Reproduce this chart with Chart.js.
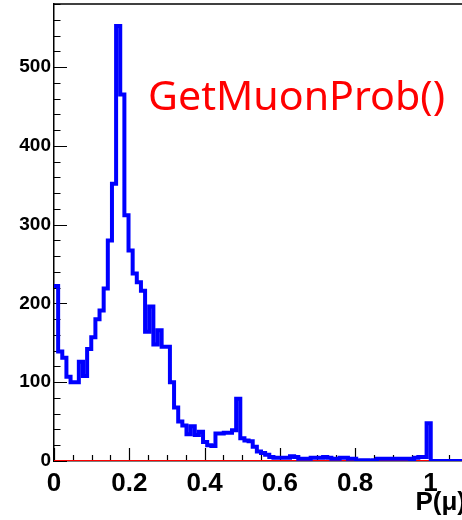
<!DOCTYPE html>
<html>
<head>
<meta charset="utf-8">
<script src="https://cdn.jsdelivr.net/npm/chart.js@4.4.1/dist/chart.umd.min.js"></script>
<style>
html,body{margin:0;padding:0;overflow:hidden;background:#fff;}
canvas{display:block;}
</style>
</head>
<body>
<canvas id="c" width="468" height="520"></canvas>
<script>
// Histogram definition: 100 bins on [0, 1.1]
const histMin = 0;
const histMax = 1.1;
const binWidth = 0.011;

// Blue histogram counts (GetMuonProb), one per bin
const blueCounts = [
  222, 139, 131, 107, 100, 100, 126, 108, 142, 157,
  180, 191, 219, 280, 352, 552, 465, 312, 267, 238,
  227, 216, 164, 196, 148, 166, 145, 145, 100, 68,
  50, 45, 34, 44, 33, 37, 24, 20, 19, 35,
  35, 36, 36, 39, 79, 29, 26, 25, 18, 12,
  10, 8, 5, 4, 4, 4, 4, 6, 5, 3,
  3, 3, 4, 4, 4, 5, 4, 3, 3, 4,
  4, 3, 3, 0, 1, 1, 0, 1, 3, 3,
  3, 3, 3, 3, 3, 3, 2, 4, 5, 5,
  48, 0, 0, 0, 0, 0, 0, 0, 0, 0
];

// Red histogram counts (all empty)
const redCounts = [
  0,0,0,0,0,0,0,0,0,0, 0,0,0,0,0,0,0,0,0,0,
  0,0,0,0,0,0,0,0,0,0, 0,0,0,0,0,0,0,0,0,0,
  0,0,0,0,0,0,0,0,0,0, 0,0,0,0,0,0,0,0,0,0,
  0,0,0,0,0,0,0,0,0,0, 0,0,0,0,0,0,0,0,0,0,
  0,0,0,0,0,0,0,0,0,0, 0,0,0,0,0,0,0,0,0,0
];

// Tick labels
const xTickValues = [0, 0.2, 0.4, 0.6, 0.8, 1];
const xTickLabels = ["0", "0.2", "0.4", "0.6", "0.8", "1"];
const yTickValues = [0, 100, 200, 300, 400, 500];
const yTickLabels = ["0", "100", "200", "300", "400", "500"];

const titleText = "GetMuonProb()";
const xAxisTitle = "P(\u03BC)";

function histPoints(counts) {
  const pts = counts.map((c, i) => ({ x: histMin + i * binWidth, y: c }));
  pts.push({ x: histMax, y: counts[counts.length - 1] });
  return pts;
}

const tickPlugin = {
  id: 'rootTicks',
  beforeDatasetsDraw(chart) {
    const { ctx, chartArea: a, scales: { x, y } } = chart;
    ctx.save();
    ctx.strokeStyle = '#000';
    ctx.lineWidth = 1.2;
    ctx.beginPath();
    for (let v = 0; v <= 580; v += 20) {
      const py = Math.round(y.getPixelForValue(v)) + 0.5;
      const len = (v % 100 === 0) ? 13 : 6.5;
      ctx.moveTo(a.left, py);
      ctx.lineTo(a.left + len, py);
    }
    for (let k = 0; k <= 22; k++) {
      const v = k * 0.05;
      const px = Math.round(x.getPixelForValue(v)) + 0.5;
      const len = (k % 4 === 0) ? 13 : 6;
      ctx.moveTo(px, a.bottom);
      ctx.lineTo(px, a.bottom - len);
    }
    ctx.stroke();
    ctx.lineWidth = 1.5;
    ctx.beginPath();
    ctx.moveTo(a.left - 1, a.top);
    ctx.lineTo(a.right, a.top);
    ctx.stroke();
    ctx.restore();
  },
  afterDraw(chart) {
    const { ctx } = chart;
    ctx.save();
    ctx.font = '40px "Noto Sans"';
    const w = ctx.measureText(titleText).width;
    ctx.translate(148, 110);
    ctx.scale(297 / w, 1);
    ctx.fillStyle = '#ff0000';
    ctx.textBaseline = 'alphabetic';
    ctx.textAlign = 'left';
    ctx.fillText(titleText, 0, 0);
    ctx.restore();
    ctx.save();
    ctx.font = 'bold 26px "Liberation Sans"';
    ctx.fillStyle = '#000';
    ctx.textAlign = 'right';
    ctx.textBaseline = 'alphabetic';
    ctx.fillText(xAxisTitle, 466, 510);
    ctx.restore();
  }
};

function noPad(s) {
  s.paddingTop = 0; s.paddingBottom = 0; s.paddingLeft = 0; s.paddingRight = 0;
}

new Chart(document.getElementById('c'), {
  type: 'line',
  data: {
    datasets: [
      {
        data: histPoints(blueCounts),
        borderColor: '#0000ff',
        borderWidth: 4,
        stepped: true,
        pointRadius: 0,
        fill: false,
        tension: 0
      },
      {
        data: histPoints(redCounts),
        borderColor: '#ff0000',
        borderWidth: 2,
        stepped: true,
        pointRadius: 0,
        fill: false,
        tension: 0
      }
    ]
  },
  options: {
    responsive: false,
    animation: false,
    devicePixelRatio: 1,
    layout: { padding: { top: 4, left: 0, right: 0, bottom: 0 } },
    plugins: { legend: { display: false }, tooltip: { enabled: false }, title: { display: false } },
    scales: {
      x: {
        type: 'linear',
        min: histMin,
        max: histMax,
        grid: { display: false, drawTicks: false },
        border: { display: true, color: '#000', width: 1.5 },
        ticks: {
          color: '#000',
          font: { family: 'Liberation Sans', size: 26, weight: 'bold' },
          padding: 7,
          maxRotation: 0,
          autoSkip: false,
          callback: (v) => { const i = xTickValues.indexOf(v); return i >= 0 ? xTickLabels[i] : ''; }
        },
        afterBuildTicks: (s) => { s.ticks = xTickValues.map(v => ({ value: v })); },
        afterFit: (s) => { s.height = 59; noPad(s); }
      },
      y: {
        type: 'linear',
        min: 0,
        max: 580,
        grid: { display: false, drawTicks: false },
        border: { display: true, color: '#000', width: 1.5 },
        ticks: {
          color: '#000',
          font: { family: 'Liberation Sans', size: 19, weight: 'bold' },
          padding: 3,
          autoSkip: false,
          callback: (v) => { const i = yTickValues.indexOf(v); return i >= 0 ? yTickLabels[i] : ''; }
        },
        afterBuildTicks: (s) => { s.ticks = yTickValues.map(v => ({ value: v })); },
        afterFit: (s) => { s.width = 54; noPad(s); }
      }
    }
  },
  plugins: [tickPlugin]
});
</script>
</body>
</html>
